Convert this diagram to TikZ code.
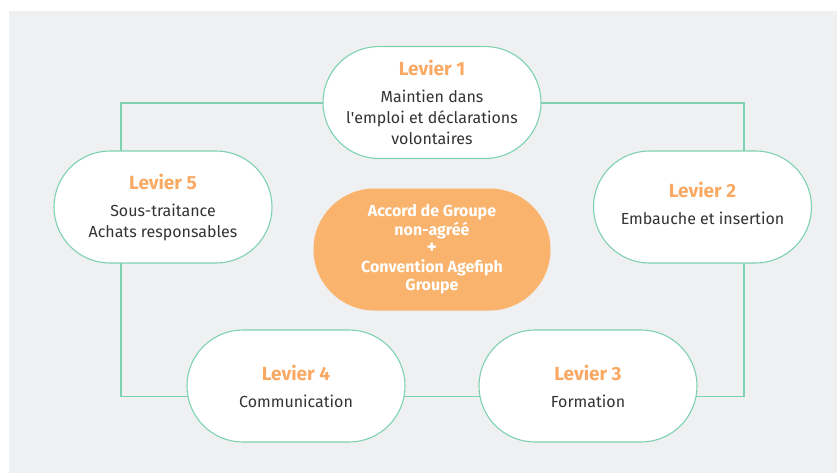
\documentclass[tikz,border=0pt]{standalone}
\usepackage{fontspec}
\setmainfont{Fira Sans}
\definecolor{levgreen}{HTML}{7ED2AF}
\definecolor{levorange}{HTML}{F9A964}
\definecolor{accordorange}{HTML}{F9B36C}
\definecolor{bggrey}{HTML}{EFF0F2}
\definecolor{textgrey}{HTML}{333333}
\newcommand{\levtitle}[1]{{\fontsize{19}{20}\selectfont\bfseries\color{levorange}#1}\\[6pt]}
\begin{document}
\begin{tikzpicture}[x=1pt, y=-1pt,
        levier/.style={draw=levgreen, line width=1.1pt, fill=white, rounded corners=56pt,
            minimum width=218pt, minimum height=112pt, inner sep=0pt, align=center,
            text=textgrey, font=\fontsize{16}{21}\selectfont},
        accord/.style={fill=accordorange, rounded corners=61pt, minimum width=237pt,
            minimum height=122pt, inner sep=0pt, align=center, text=white,
            font=\fontsize{16}{18.5}\selectfont\bfseries}]
    \useasboundingbox (0,0) rectangle (837,473);
    \fill[white] (0,0) rectangle (837,473);
    \fill[bggrey] (9,11) rectangle (837,473);
    % frame behind the levers
    \coordinate (tl) at (121,103);
    \coordinate (tr) at (744,103);
    \coordinate (br) at (744,396.5);
    \coordinate (bl) at (121,396.5);
    \draw[levgreen, line width=1.3pt] (tl) -- (tr) -- (br) -- (bl) -- cycle;
    \node[levier] (lev1) at (432,102.5) {\levtitle{Levier 1}Maintien dans\\l\textquotesingle emploi et déclarations\\volontaires};
    \node[levier] (lev2) at (702.5,207) {\levtitle{Levier 2}Embauche et insertion\\[-13pt]};
    \node[levier] (lev3) at (588,386) {\levtitle{Levier 3}Formation};
    \node[levier] (lev4) at (296,386) {\levtitle{Levier 4}Communication};
    \node[levier] (lev5) at (163,207) {\levtitle{Levier 5}Sous-traitance\\Achats responsables};
    \node[accord] (accord) at (432,249.5) {Accord de Groupe\\non-agréé\\{\fontsize{19}{18.5}\selectfont+}\\Convention Agefiph\\Groupe};
\end{tikzpicture}
\end{document}
